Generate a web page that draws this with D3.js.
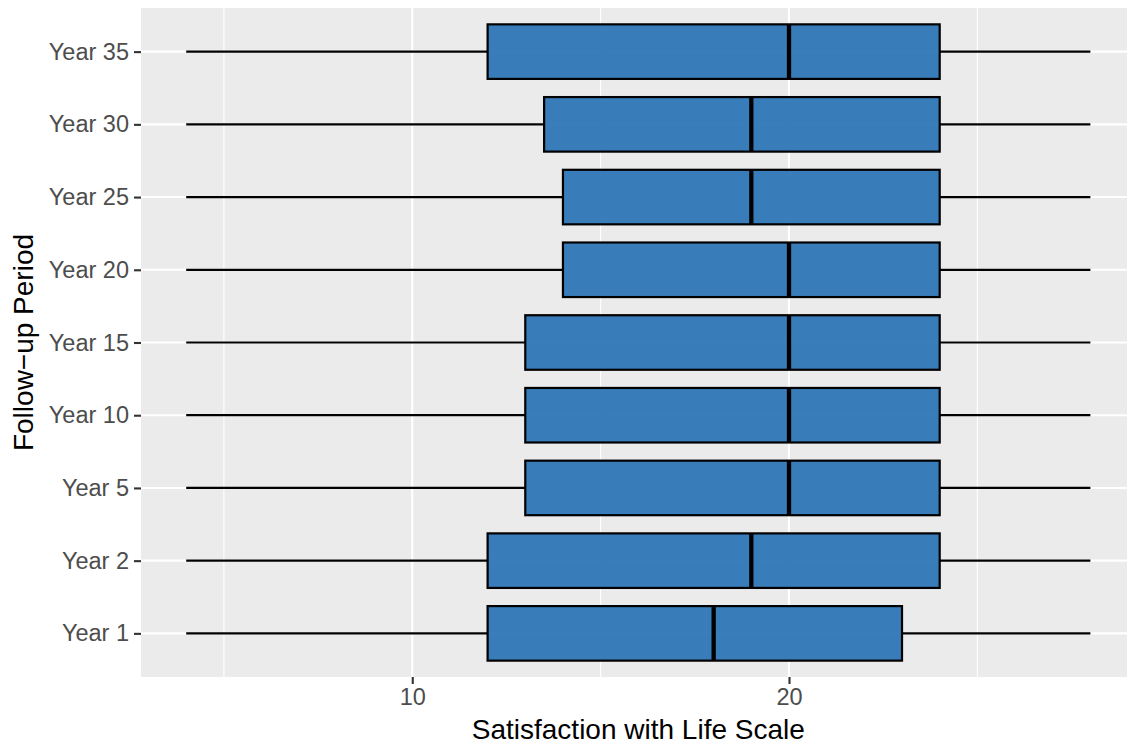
<!DOCTYPE html>
<html>
<head>
<meta charset="utf-8">
<script src="https://cdn.jsdelivr.net/npm/d3@7"></script>
<style>
  html, body { margin: 0; padding: 0; background: #fff; }
  svg { display: block; font-family: "Liberation Sans", Arial, sans-serif; }
</style>
</head>
<body>
<svg id="chart" width="1127" height="744"></svg>
<script>
// Follow-up periods, bottom to top
const periods = ["Year 1", "Year 2", "Year 5", "Year 10", "Year 15", "Year 20", "Year 25", "Year 30", "Year 35"];
// Five-number summaries of the SWLS score per period
const whiskerLow  = [4, 4, 4, 4, 4, 4, 4, 4, 4];
const q1          = [12, 12, 13, 13, 13, 14, 14, 13.5, 12];
const medians     = [18, 19, 20, 20, 20, 20, 19, 19, 20];
const q3          = [23, 24, 24, 24, 24, 24, 24, 24, 24];
const whiskerHigh = [28, 28, 28, 28, 28, 28, 28, 28, 28];

const xMajorTicks = [10, 20];
const xMinorTicks = [5, 15, 25];

const rows = periods.map((p, i) => ({
  period: p, lo: whiskerLow[i], q1: q1[i], med: medians[i], q3: q3[i], hi: whiskerHigh[i]
}));

const svg = d3.select("#chart");
const panel = { left: 141, top: 8, bottom: 677 };

// Continuous range with 5% expansion on each side of the data span
const xMin = d3.min(whiskerLow), xMax = d3.max(whiskerHigh);
const pad = (xMax - xMin) * 0.05;
const x = d3.scaleLinear()
  .domain([xMin - pad, xMax + pad])
  .range([panel.left, 1135.6]);
panel.right = x.range()[1];

const y = d3.scalePoint()
  .domain(periods.slice().reverse())
  .range([panel.top, panel.bottom])
  .padding(0.6);
const boxH = y.step() * 0.75;

// Panel background
svg.append("rect")
  .attr("x", panel.left).attr("y", panel.top)
  .attr("width", panel.right - panel.left).attr("height", panel.bottom - panel.top)
  .attr("fill", "#EBEBEB");

const grid = svg.append("g");
grid.selectAll(".minor").data(xMinorTicks).join("line")
  .attr("x1", d => x(d)).attr("x2", d => x(d))
  .attr("y1", panel.top).attr("y2", panel.bottom)
  .attr("stroke", "#fff").attr("stroke-width", 1.1);
grid.selectAll(".majx").data(xMajorTicks).join("line")
  .attr("x1", d => x(d)).attr("x2", d => x(d))
  .attr("y1", panel.top).attr("y2", panel.bottom)
  .attr("stroke", "#fff").attr("stroke-width", 2.1);
grid.selectAll(".majy").data(periods).join("line")
  .attr("x1", panel.left).attr("x2", panel.right)
  .attr("y1", d => y(d)).attr("y2", d => y(d))
  .attr("stroke", "#fff").attr("stroke-width", 2.1);

// Boxplots
const boxes = svg.append("g").selectAll("g").data(rows).join("g");
boxes.append("line")
  .attr("x1", d => x(d.lo)).attr("x2", d => x(d.q1))
  .attr("y1", d => y(d.period)).attr("y2", d => y(d.period))
  .attr("stroke", "#000").attr("stroke-width", 2.2);
boxes.append("line")
  .attr("x1", d => x(d.q3)).attr("x2", d => x(d.hi))
  .attr("y1", d => y(d.period)).attr("y2", d => y(d.period))
  .attr("stroke", "#000").attr("stroke-width", 2.2);
boxes.append("rect")
  .attr("x", d => x(d.q1)).attr("width", d => x(d.q3) - x(d.q1))
  .attr("y", d => y(d.period) - boxH / 2).attr("height", boxH)
  .attr("fill", "#2873B5").attr("fill-opacity", 0.92)
  .attr("stroke", "#000").attr("stroke-width", 2.2);
boxes.append("line")
  .attr("x1", d => x(d.med)).attr("x2", d => x(d.med))
  .attr("y1", d => y(d.period) - boxH / 2).attr("y2", d => y(d.period) + boxH / 2)
  .attr("stroke", "#000").attr("stroke-width", 4.3);

// Axes
const xAxis = svg.append("g")
  .attr("transform", `translate(0,${panel.bottom})`)
  .call(d3.axisBottom(x).tickValues(xMajorTicks).tickSize(7).tickPadding(4).tickFormat(d3.format("d")));
xAxis.select(".domain").remove();
xAxis.selectAll(".tick line").attr("stroke", "#333").attr("stroke-width", 2.1);
xAxis.selectAll(".tick text").attr("fill", "#4D4D4D").attr("font-size", 23.5)
  .attr("font-family", "Liberation Sans, Arial, sans-serif");

const yAxis = svg.append("g")
  .attr("transform", `translate(${panel.left},0)`)
  .call(d3.axisLeft(y).tickSize(7).tickPadding(5));
yAxis.select(".domain").remove();
yAxis.selectAll(".tick line").attr("stroke", "#333").attr("stroke-width", 2.1);
yAxis.selectAll(".tick text").attr("fill", "#4D4D4D").attr("font-size", 23.5)
  .attr("font-family", "Liberation Sans, Arial, sans-serif");

// Axis titles
svg.append("text")
  .attr("x", (panel.left + panel.right) / 2).attr("y", 739)
  .attr("text-anchor", "middle").attr("font-size", 28).attr("fill", "#000")
  .text("Satisfaction with Life Scale");
svg.append("text")
  .attr("transform", `translate(33,${(panel.top + panel.bottom) / 2}) rotate(-90)`)
  .attr("text-anchor", "middle").attr("font-size", 28).attr("fill", "#000")
  .text("Follow\u2212up Period");
</script>
</body>
</html>
